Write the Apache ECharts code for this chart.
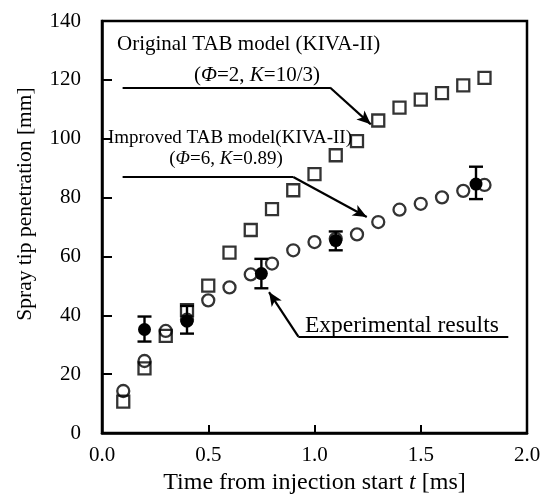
<!DOCTYPE html>
<html>
<head>
<meta charset="utf-8">
<script src="https://cdn.jsdelivr.net/npm/echarts@6/dist/echarts.min.js"></script>
<style>html,body{margin:0;padding:0;background:#fff;}#c{width:560px;height:500px;}</style>
</head>
<body>
<div id="c"></div>
<script>
// ---- data ----
const timeMs = [0.1, 0.2, 0.3, 0.4, 0.5, 0.6, 0.7, 0.8, 0.9, 1.0, 1.1, 1.2, 1.3, 1.4, 1.5, 1.6, 1.7, 1.8];
const originalTAB = [10.7, 22.0, 33.0, 41.8, 50.1, 61.3, 69.0, 76.1, 82.5, 88.0, 94.4, 99.2, 106.2, 110.6, 113.3, 115.5, 118.1, 120.7];
const improvedTAB = [14.3, 24.5, 34.7, 38.5, 45.1, 49.5, 53.9, 57.6, 62.1, 64.9, 66.0, 67.5, 71.7, 75.9, 77.9, 80.1, 82.3, 84.3];
const expTime = [0.2, 0.4, 0.75, 1.1, 1.76];
const expMean = [35.2, 38.0, 54.2, 65.4, 84.6];
const expLow = [31.1, 33.8, 49.2, 62.1, 79.5];
const expHigh = [39.6, 43.2, 59.2, 68.5, 90.5];
const xTicks = [0, 0.5, 1.0, 1.5, 2.0];
const yTicks = [0, 20, 40, 60, 80, 100, 120, 140];
// annotation leader lines (data coordinates): start, bend, arrow tip
const arrowOriginal = [[0.097, 117.4], [1.073, 117.4], [1.265, 104.9]];
const arrowImproved = [[0.097, 87.0], [0.90, 87.0], [1.246, 73.4]];
const arrowExperiment = [[1.912, 32.8], [0.924, 32.8], [0.786, 47.9]];

const FONT = '"Liberation Serif", "DejaVu Serif", serif';
const chart = echarts.init(document.getElementById('c'), null, {renderer: 'canvas'});

function zip(a, b) { return a.map((v, i) => [v, b[i]]); }
function leader(pts) {
  return [
    [{coord: pts[0], symbol: 'none'}, {coord: pts[1], symbol: 'none'}],
    [{coord: pts[1], symbol: 'none'}, {coord: pts[2], symbol: 'arrow', symbolSize: [9, 14]}]
  ];
}

const option = {
  backgroundColor: '#fff',
  animation: false,
  grid: {left: 102, right: 33, top: 21, bottom: 55, show: true, borderColor: '#000', borderWidth: 2.5, backgroundColor: 'transparent'},
  xAxis: {
    type: 'value', min: 0, max: 2, interval: 0.5,
    axisLine: {show: true, lineStyle: {color: '#000', width: 2.5}},
    axisTick: {show: true, inside: true, length: 8, lineStyle: {color: '#000', width: 2}},
    splitLine: {show: false},
    axisLabel: {color: '#000', fontFamily: FONT, fontSize: 21, margin: 12,
      formatter: v => xTicks.indexOf(v) >= 0 ? v.toFixed(1) : ''},
    name: 'Time from injection start {i|t} [ms]', nameLocation: 'middle', nameGap: 37,
    nameTextStyle: {color: '#000', fontFamily: FONT, fontSize: 24,
      rich: {i: {fontStyle: 'italic', fontFamily: FONT, fontSize: 24, color: '#000'}}}
  },
  yAxis: {
    type: 'value', min: 0, max: 140, interval: 20,
    axisLine: {show: true, lineStyle: {color: '#000', width: 2.5}},
    axisTick: {show: true, inside: true, length: 10, lineStyle: {color: '#000', width: 2}},
    splitLine: {show: false},
    axisLabel: {color: '#000', fontFamily: FONT, fontSize: 21, margin: 21,
      formatter: v => yTicks.indexOf(v) >= 0 ? String(v) : ''}
  },
  graphic: [
    {type: 'text', x: 25, y: 204, rotation: Math.PI / 2,
      style: {text: 'Spray tip penetration [mm]', font: '21.5px ' + FONT, fill: '#000', align: 'center', verticalAlign: 'middle'}},
    {type: 'text', x: 117, y: 44,
      style: {text: 'Original TAB model (KIVA-II)', font: '21px ' + FONT, fill: '#000', align: 'left', verticalAlign: 'middle'}},
    {type: 'text', x: 257, y: 75,
      style: {rich: {n: {font: '21px ' + FONT, fill: '#000'}, i: {font: 'italic 21px ' + FONT, fill: '#000'}},
        text: '{n|(}{i|Φ}{n|=2, }{i|K}{n|=10/3)}', align: 'center', verticalAlign: 'middle'}},
    {type: 'text', x: 108, y: 138,
      style: {text: 'Improved TAB model(KIVA-II)', font: '19px ' + FONT, fill: '#000', align: 'left', verticalAlign: 'middle'}},
    {type: 'text', x: 226, y: 159,
      style: {rich: {n: {font: '19px ' + FONT, fill: '#000'}, i: {font: 'italic 19px ' + FONT, fill: '#000'}},
        text: '{n|(}{i|Φ}{n|=6, }{i|K}{n|=0.89)}', align: 'center', verticalAlign: 'middle'}},
    {type: 'text', x: 305, y: 326,
      style: {text: 'Experimental results', font: '23.5px ' + FONT, fill: '#000', align: 'left', verticalAlign: 'middle'}}
  ],
  series: [
    {
      name: 'Original TAB', type: 'scatter', data: zip(timeMs, originalTAB),
      symbol: 'rect', symbolSize: 12, z: 2,
      itemStyle: {color: 'rgba(0,0,0,0)', borderColor: '#000', borderWidth: 2.3}
    },
    {
      name: 'Improved TAB', type: 'scatter', data: zip(timeMs, improvedTAB),
      symbol: 'circle', symbolSize: 12, z: 3,
      itemStyle: {color: 'rgba(0,0,0,0)', borderColor: '#000', borderWidth: 2.3}
    },
    {
      name: 'Error', type: 'custom', z: 4,
      data: expTime.map((t, i) => [t, expLow[i], expHigh[i]]),
      renderItem: function (params, api) {
        const lo = api.coord([api.value(0), api.value(1)]);
        const hi = api.coord([api.value(0), api.value(2)]);
        const w = 7;
        const st = {stroke: '#000', lineWidth: 2.4};
        return {type: 'group', children: [
          {type: 'line', shape: {x1: lo[0], y1: lo[1], x2: hi[0], y2: hi[1]}, style: st},
          {type: 'line', shape: {x1: lo[0] - w, y1: lo[1], x2: lo[0] + w, y2: lo[1]}, style: st},
          {type: 'line', shape: {x1: hi[0] - w, y1: hi[1], x2: hi[0] + w, y2: hi[1]}, style: st}
        ]};
      }
    },
    {
      name: 'Experimental', type: 'scatter', data: zip(expTime, expMean),
      symbol: 'circle', symbolSize: 13, z: 5,
      itemStyle: {color: '#000', opacity: 1}
    },
    {
      name: 'Leaders', type: 'line', data: [], z: 6,
      markLine: {
        silent: true, animation: false,
        label: {show: false},
        lineStyle: {color: '#000', width: 2.2, type: 'solid'},
        itemStyle: {color: '#000'},
        emphasis: {disabled: true},
        data: [].concat(leader(arrowOriginal), leader(arrowImproved), leader(arrowExperiment))
      }
    }
  ]
};
chart.setOption(option);
</script>
</body>
</html>
